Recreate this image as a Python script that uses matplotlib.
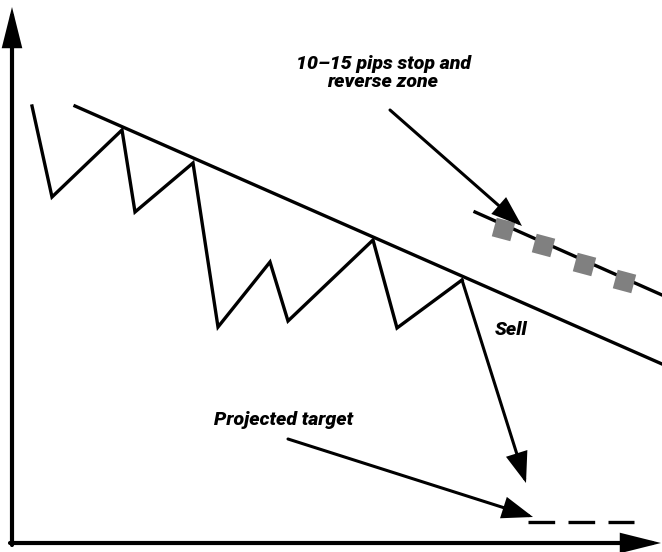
import matplotlib.pyplot as plt
from matplotlib import font_manager

# schematic drawn in picture coordinates (x right, y down)
zig_x = [32, 52, 122, 135, 193, 218, 270, 288, 373, 397, 462]
zig_y = [106, 197, 130, 212, 163, 327, 262, 321, 240, 328, 280]

trend_x = [75, 662]
trend_y = [106, 364]

stop_x = [475, 662]
stop_y = [212, 295]
box_x = [503, 543, 584, 624]
box_y = [229, 245, 264, 281]

target_x = [528, 634]
target_y = [522, 522]

fig = plt.figure(figsize=(6.62, 5.52), dpi=100)
ax = fig.add_axes([0, 0, 1, 1])
ax.set_xlim(0, 662)
ax.set_ylim(552, 0)
ax.axis('off')

def arrow(start, tip, lw=2.2, hl=1.8, hw=0.65):
    ax.annotate('', xy=tip, xytext=start,
                arrowprops=dict(arrowstyle='-|>,head_length=%s,head_width=%s' % (hl, hw),
                                lw=lw, color='black', shrinkA=0, shrinkB=0,
                                joinstyle='miter'))

# axes
arrow((12, 545), (12, 7), lw=3, hl=2.2, hw=0.55)
arrow((10, 543), (661, 543), lw=3, hl=2.2, hw=0.55)

ax.plot(zig_x, zig_y, color='black', lw=2.4, solid_joinstyle='miter')
ax.plot(trend_x, trend_y, color='black', lw=2.4)
ax.plot(stop_x, stop_y, color='black', lw=2.4)
ax.plot(box_x, box_y, ls='none', marker=(4, 0, 30), ms=19.5,
        mfc='#808080', mec='none', zorder=3)

ax.plot(target_x, target_y, color='black', lw=2.4, dashes=(8, 4))

# sell leg
arrow((zig_x[-1], zig_y[-1]), (526, 483))
# callouts
arrow((390, 110), (522, 226))
arrow((288, 439), (533, 517))

names = {f.name for f in font_manager.fontManager.ttflist}
fam = 'Liberation Sans Narrow' if 'Liberation Sans Narrow' in names else 'Roboto'
font = dict(family=[fam, 'DejaVu Sans'], weight='black',
            style='italic', fontsize=14)
ax.text(383, 73, '10\u201315 pips stop and\nreverse zone', ha='center', va='center',
        linespacing=1.0, **font)
ax.text(511, 330, 'Sell', ha='center', va='center', **font)
ax.text(284, 420, 'Projected target', ha='center', va='center', **font)

fig.savefig('out.png', dpi=100)
